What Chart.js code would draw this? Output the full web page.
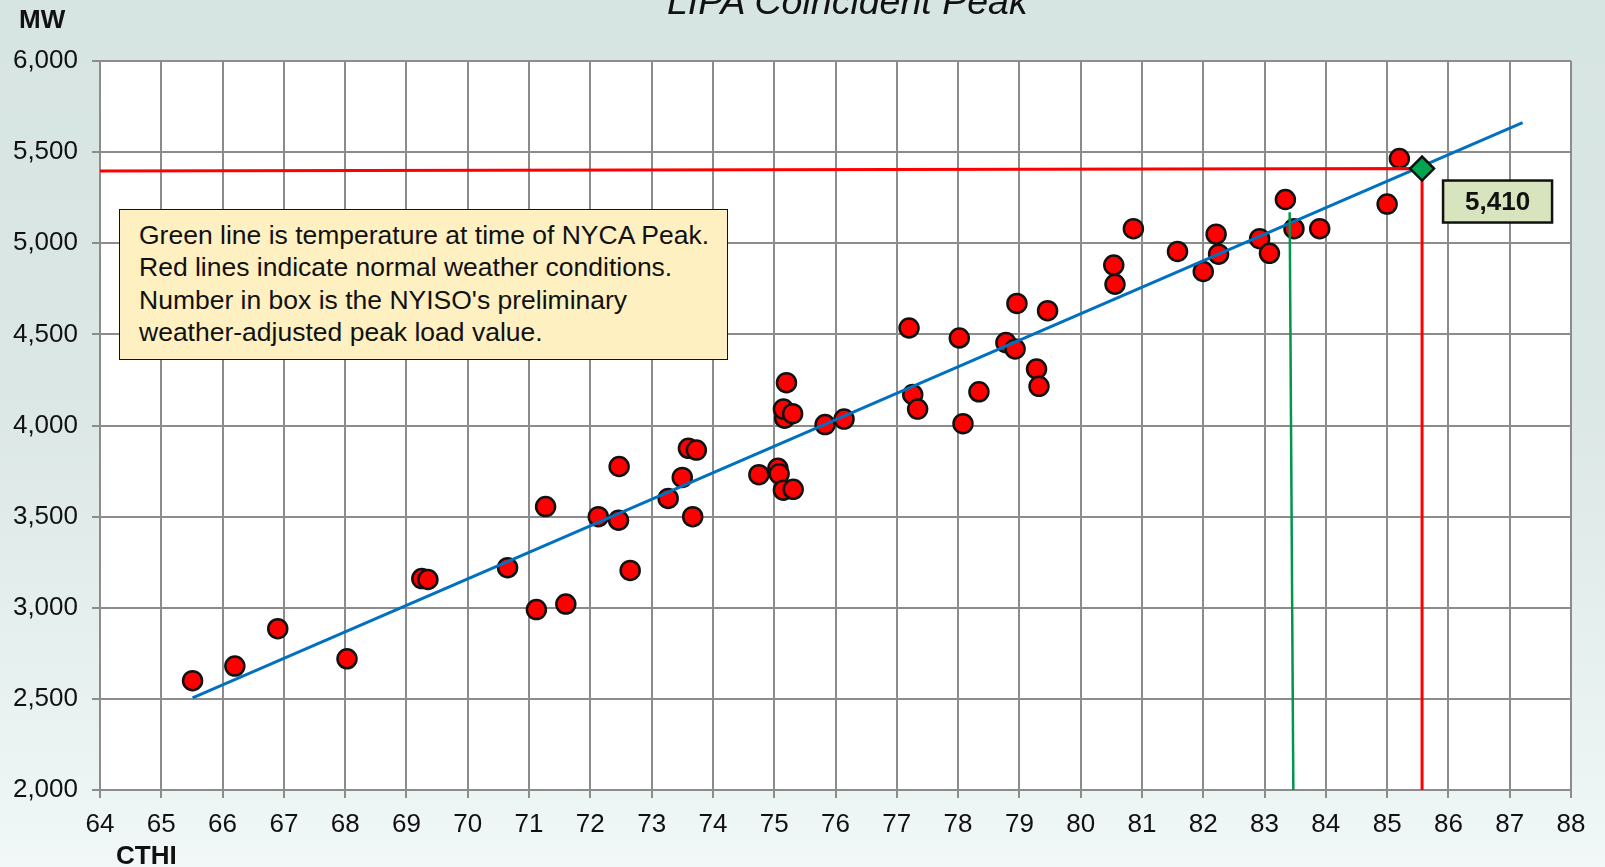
<!DOCTYPE html>
<html>
<head>
<meta charset="utf-8">
<script src="https://cdn.jsdelivr.net/npm/chart.js@4.4.1/dist/chart.umd.min.js"></script>
<style>
    html, body { margin: 0; padding: 0; }
    body {
        width: 1605px;
        height: 867px;
        overflow: hidden;
        position: relative;
        background: linear-gradient(180deg, #d6e4e2 0%, #dbe7e5 45%, #eaf3f2 85%, #f1f8f7 100%);
        font-family: "Liberation Sans", Arial, sans-serif;
    }
    #wrap { position: absolute; left: 0; top: 0; width: 1605px; height: 867px; }
    .title {
        position: absolute; left: 667px; top: -20px;
        font-size: 37.5px; font-style: italic; color: #111;
        white-space: nowrap;
    }
    .unit { position: absolute; font-weight: bold; font-size: 26px; color: #111; }
    .note {
        position: absolute; left: 119px; top: 209px;
        width: 569px; height: 130px;
        padding: 9px 19px 10px 19px;
        background: #fff0c1;
        border: 1.5px solid #111;
        font-size: 26.5px; line-height: 32.4px; color: #111;
        white-space: nowrap;
    }
</style>
</head>
<body>
<div id="wrap"><canvas id="chart"></canvas></div>
<div class="title">LIPA Coincident Peak</div>
<div class="unit" style="left:19px; top:4px;">MW</div>
<div class="unit" style="left:116px; top:840px;">CTHI</div>
<div class="note">Green line is temperature at time of NYCA Peak.<br>Red lines indicate normal weather conditions.<br>Number in box is the NYISO's preliminary<br>weather-adjusted peak load value.</div>
<script>
// Observed peaks (CTHI vs MW)
const cthi = [65.51, 66.2, 66.9, 68.03, 69.25, 69.35, 70.65, 71.12, 71.27, 71.6,
    72.13, 72.46, 72.47, 72.65, 73.27, 73.5, 73.6, 73.73, 73.67, 74.75,
    75.06, 75.08, 75.15, 75.31, 75.17, 75.15, 75.3, 75.2, 75.83, 76.14,
    77.2, 78.02, 77.26, 77.34, 78.08, 78.34, 78.78, 78.93, 78.96, 79.46,
    79.28, 79.32, 80.54, 80.56, 80.86, 81.58, 82.0, 82.21, 82.25, 82.92,
    83.08, 83.34, 83.48, 83.9, 85.0, 85.2];
const mw = [2600, 2680, 2885, 2720, 3160, 3155, 3220, 2990, 3555, 3020,
    3500, 3480, 3775, 3205, 3600, 3715, 3875, 3865, 3500, 3730,
    3765, 3735, 3645, 3650, 4040, 4090, 4065, 4235, 4005, 4035,
    4535, 4480, 4170, 4090, 4010, 4185, 4455, 4420, 4670, 4630,
    4310, 4215, 4880, 4775, 5080, 4955, 4845, 5050, 4940, 5025,
    4945, 5240, 5080, 5080, 5215, 5465];

// Regression line end points
const trendX = [65.51, 87.21];
const trendY = [2505, 5662];

// Normal weather point and its guide lines
const normalCthi = 85.57;
const normalMw = 5410;
const normalLineX = [64, normalCthi, normalCthi];
const normalLineY = [5397, normalMw, 2000];

// Temperature at time of NYCA peak
const peakLineX = [83.41, 83.47];
const peakLineY = [5170, 2000];

// Axis ticks
const xMin = 64, xMax = 88, xStep = 1;
const yMin = 2000, yMax = 6000, yStep = 500;

function pts(xs, ys) {
    return xs.map((x, i) => ({ x: x, y: ys[i] }));
}

// value box next to the normal-weather diamond
const valueBox = {
    id: 'valueBox',
    afterDatasetsDraw(chart) {
        const ctx = chart.ctx;
        const px = chart.scales.x.getPixelForValue(normalCthi);
        const py = chart.scales.y.getPixelForValue(normalMw);
        const bx = px + 21, by = py + 12, bw = 109, bh = 42;
        ctx.save();
        ctx.fillStyle = '#d7e4bd';
        ctx.fillRect(bx, by, bw, bh);
        ctx.lineWidth = 2.5;
        ctx.strokeStyle = '#111';
        ctx.strokeRect(bx, by, bw, bh);
        ctx.fillStyle = '#111';
        ctx.font = 'bold 26px "Liberation Sans", Arial, sans-serif';
        ctx.textAlign = 'center';
        ctx.textBaseline = 'middle';
        ctx.fillText(normalMw.toLocaleString('en-US'), bx + bw / 2, by + bh / 2 + 1);
        ctx.restore();
    }
};

const gridColor = '#8c8c8c';
const tickFont = { family: '"Liberation Sans", Arial, sans-serif', size: 26 };

new Chart(document.getElementById('chart'), {
    type: 'scatter',
    data: {
        datasets: [
            {
                label: 'Normal',
                data: [{ x: normalCthi, y: normalMw }],
                pointStyle: 'rectRot',
                pointRadius: 12,
                backgroundColor: '#00a550',
                borderColor: '#111',
                borderWidth: 2.5
            },
            {
                label: 'Normal lines',
                data: pts(normalLineX, normalLineY),
                showLine: true,
                pointRadius: 0,
                borderColor: '#ff0000',
                borderWidth: 3
            },
            {
                label: 'Peak temperature',
                data: pts(peakLineX, peakLineY),
                showLine: true,
                pointRadius: 0,
                borderColor: '#00964b',
                borderWidth: 2.5
            },
            {
                label: 'Trend',
                data: pts(trendX, trendY),
                showLine: true,
                pointRadius: 0,
                borderColor: '#0070c0',
                borderWidth: 3
            },
            {
                label: 'Peaks',
                data: pts(cthi, mw),
                pointRadius: 9.5,
                backgroundColor: '#ff0000',
                borderColor: '#111',
                borderWidth: 2.5
            }
        ]
    },
    options: {
        responsive: true,
        maintainAspectRatio: false,
        animation: false,
        layout: { padding: { left: 0, top: 61, right: 34, bottom: 0 } },
        plugins: {
            legend: { display: false },
            tooltip: { enabled: false }
        },
        scales: {
            x: {
                type: 'linear',
                min: xMin,
                max: xMax,
                afterFit: s => { s.height = 77; },
                ticks: {
                    stepSize: xStep,
                    color: '#111',
                    font: tickFont,
                    padding: 11,
                    maxRotation: 0
                },
                grid: { color: gridColor, lineWidth: 2, tickLength: 8, tickColor: gridColor },
                border: { color: gridColor, width: 2 }
            },
            y: {
                type: 'linear',
                min: yMin,
                max: yMax,
                afterFit: s => { s.width = 100; },
                ticks: {
                    stepSize: yStep,
                    color: '#111',
                    font: tickFont,
                    padding: 14,
                    callback: v => v.toLocaleString('en-US')
                },
                grid: { color: gridColor, lineWidth: 2, tickLength: 8, tickColor: gridColor },
                border: { color: gridColor, width: 2 }
            }
        }
    },
    plugins: [
        {
            id: 'plotBg',
            beforeDraw(chart) {
                const a = chart.chartArea;
                chart.ctx.save();
                chart.ctx.fillStyle = '#ffffff';
                chart.ctx.fillRect(a.left, a.top, a.right - a.left, a.bottom - a.top);
                chart.ctx.restore();
            }
        },
        valueBox
    ]
});
</script>
</body>
</html>
